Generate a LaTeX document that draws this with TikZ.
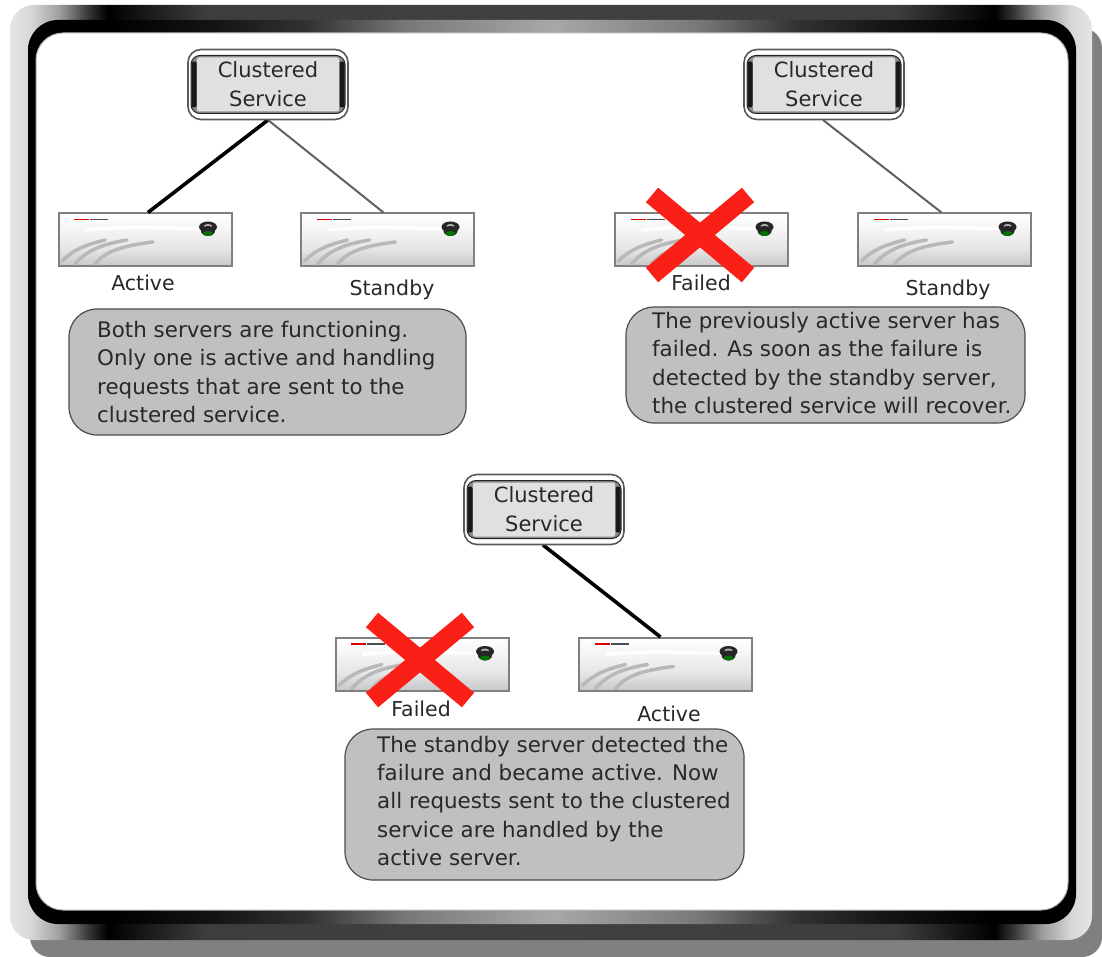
\documentclass[tikz,border=0pt]{standalone}
\usepackage{fontspec}
\setmainfont{DejaVu Sans}
\definecolor{shadowgray}{HTML}{808080}
\definecolor{crossred}{HTML}{FA2018}
\definecolor{calloutgray}{HTML}{C0C0C0}
\definecolor{inktext}{HTML}{282828}
% the path's bounding box maps onto 25bp..75bp
\pgfdeclarehorizontalshading{outerband}{100bp}{
 color(0bp)=(white!90!black); color(25bp)=(white!90!black); color(26bp)=(white!84!black);
 color(27.3bp)=(white!62!black); color(28.6bp)=(white!22!black); color(29.5bp)=(black);
 color(31bp)=(white!8!black); color(34bp)=(white!24!black); color(50bp)=(white!25!black);
 color(66bp)=(white!24!black); color(69bp)=(white!8!black); color(70.5bp)=(black);
 color(71.4bp)=(white!22!black); color(72.7bp)=(white!62!black); color(74bp)=(white!84!black);
 color(75bp)=(white!90!black); color(100bp)=(white!90!black)}
\pgfdeclarehorizontalshading{innerband}{100bp}{
 color(0bp)=(black); color(29bp)=(black); color(34bp)=(white!8!black); color(38.4bp)=(white!20!black);
 color(43bp)=(white!47!black); color(50bp)=(white!66!black); color(57bp)=(white!47!black);
 color(61.6bp)=(white!20!black); color(66bp)=(white!8!black); color(71bp)=(black); color(100bp)=(black)}
\pgfdeclareverticalshading{serverbody}{100bp}{
 color(0bp)=(white!76!black); color(25bp)=(white!78!black); color(42bp)=(white!90!black);
 color(60bp)=(white!96!black); color(75bp)=(white); color(100bp)=(white)}
\tikzset{
 x=1pt,y=-1pt,
 clusterouter/.style={draw=black!65,line width=1.6pt,fill=white,rounded corners=13pt,minimum width=160pt,minimum height=70pt,inner sep=0pt},
 clustermid/.style={draw=black!85,line width=1pt,fill=black!45,rounded corners=9pt,minimum width=154pt,minimum height=58pt,inner sep=0pt},
 clusterside/.style={fill=black!90,rounded corners=2pt,minimum width=5pt,minimum height=46pt,inner sep=0pt},
 clusterinner/.style={fill=black!12,minimum width=142pt,minimum height=54pt,rounded corners=2pt,inner sep=0pt,align=center,text=inktext,font=\fontsize{21}{29}\selectfont},
 serverbox/.style={draw=black!50,line width=2pt,shading=serverbody,minimum width=173pt,minimum height=53pt,inner sep=0pt},
 swoosh/.style={draw=black!28,line width=3.5pt,line cap=round},
 liveline/.style={draw=black,line width=3.6pt},
 idleline/.style={draw=black!62,line width=2pt},
 crossarm/.style={draw=crossred,line width=19pt},
 srvlabel/.style={text=inktext,font=\fontsize{20.5}{25}\selectfont,inner sep=0pt},
 callout/.style={draw=black!70,line width=1.2pt,fill=calloutgray,rounded corners=28pt,inner sep=0pt},
 calltext/.style={text=inktext,font=\fontsize{21.4}{28.4}\selectfont,align=left,inner sep=0pt,anchor=west},
}
\newcommand{\clusterbox}[3]{% name, cx, cy
 \node[clusterouter] at (#2,#3) {};
 \node[clustermid] at (#2,#3) {};
 \node[clusterside] at ([xshift=-74pt]#2pt,-#3pt) {};
 \node[clusterside] at ([xshift=74pt]#2pt,-#3pt) {};
 \node[clusterinner] (#1) at (#2,#3) {Clustered\\Service};
}
\newcommand{\serverunit}[3]{% name, cx, cy
 \node[serverbox] (#1) at (#2,#3) {};
 \begin{scope}[shift={(#2pt,-#3pt)}]
  \path[draw=white,line width=3pt] (-60,-10) .. controls (-20,-14) and (20,-12) .. (60,-11);
  \draw[swoosh] (-83,21) .. controls (-72,10) and (-60,5) .. (-40,0);
  \draw[swoosh] (-70,24) .. controls (-58,10) and (-42,4) .. (-18,0);
  \draw[swoosh] (-50,24) .. controls (-40,12) and (-25,6) .. (8,2);
  \draw[red!85!black,line width=1.2pt] (-71,-20.5) -- (-56,-20.5);
  \draw[black!70,line width=1.2pt] (-55,-20.5) -- (-37,-20.5);
  \fill[black!85] (63,-13) ellipse (9pt and 5.5pt);
  \fill[black!30] (63,-14) ellipse (4pt and 2pt);
  \fill[black!85] (63,-9) ellipse (7pt and 5pt);
  \fill[green!45!black] (63,-6.5) ellipse (5pt and 2.5pt);
 \end{scope}
}
\newcommand{\crossmark}[3]{% name, cx, cy
 \coordinate (#1a) at (#2-48,#3-40); \coordinate (#1b) at (#2+48,#3+40);
 \coordinate (#1c) at (#2+48,#3-40); \coordinate (#1d) at (#2-48,#3+40);
 \draw[crossarm] (#1a) -- (#1b);
 \draw[crossarm] (#1c) -- (#1d);
}
\begin{document}
\begin{tikzpicture}
\useasboundingbox (0,0) rectangle (1102,957);
% frame
\fill[shadowgray,rounded corners=20pt] (30,28) rectangle (1102,957);
\path[shading=outerband,rounded corners=24pt] (10,5) rectangle (1092,940);
\path[shading=innerband,rounded corners=30pt] (28,20) rectangle (1076,924);
\fill[white,draw=black!30,line width=1pt,rounded corners=27pt] (36,33) rectangle (1068,910);
% group 1
\serverunit{a1}{145}{240}
\serverunit{b1}{387.5}{240}
\draw[liveline] (268,120) -- ([xshift=3pt]a1.north);
\draw[idleline] (268,120) -- ([xshift=-4pt]b1.north);
\clusterbox{cs1}{268}{84.5}
\node[srvlabel] (la1) at (143,283) {Active};
\node[srvlabel] (lb1) at (392,290) {Standby};
\node[callout,minimum width=397pt,minimum height=126pt] (co1) at (267.5,372) {};
\node[calltext] (tx1) at (97,372) {Both servers are functioning.\\Only one is active and handling\\requests that are sent to the\\clustered service.};
% group 2
\serverunit{a2}{701.5}{240}
\serverunit{b2}{944.5}{240}
\draw[idleline] (823,120) -- ([xshift=-3pt]b2.north);
\clusterbox{cs2}{824}{84.5}
\crossmark{x2}{700}{235}
\node[srvlabel] (la2) at (701,283) {Failed};
\node[srvlabel] (lb2) at (948,290) {Standby};
\node[callout,minimum width=399pt,minimum height=116pt] (co2) at (825.5,365) {};
\node[calltext] (tx2) at (652,363) {The previously active server has\\failed. As soon as the failure is\\detected by the standby server,\\the clustered service will recover.};
% group 3
\serverunit{a3}{422}{664.5}
\serverunit{b3}{665.5}{664.5}
\draw[liveline] (543,545) -- ([xshift=-5pt]b3.north);
\clusterbox{cs3}{544}{509.5}
\crossmark{x3}{420}{660}
\node[srvlabel] (la3) at (421,709) {Failed};
\node[srvlabel] (lb3) at (669,714) {Active};
\node[callout,minimum width=399pt,minimum height=151pt] (co3) at (544.5,804.5) {};
\node[calltext] (tx3) at (377,801) {The standby server detected the\\failure and became active. Now\\all requests sent to the clustered\\service are handled by the\\active server.};
\end{tikzpicture}
\end{document}
